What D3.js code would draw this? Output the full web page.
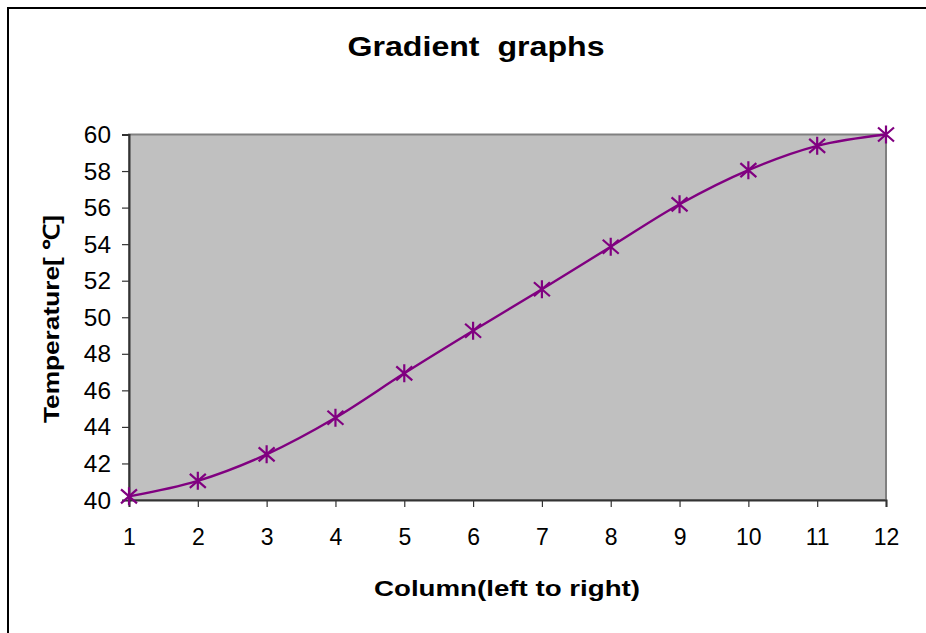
<!DOCTYPE html>
<html><head><meta charset="utf-8">
<script src="https://cdn.jsdelivr.net/npm/d3@7"></script>
<style>body{margin:0;background:#fff}svg{display:block}text{font-family:"Liberation Sans",Arial,sans-serif;fill:#000}</style>
</head><body><svg id="c" width="926" height="633"></svg>
<script>
const columns = [1,2,3,4,5,6,7,8,9,10,11,12];
const temperatures = [40.2,41.05,42.5,44.5,46.93,49.26,51.53,53.86,56.18,58.05,59.38,60.0];
const yTicks = [40,42,44,46,48,50,52,54,56,58,60];
const xTicks = [1,2,3,4,5,6,7,8,9,10,11,12];
const titleText = "Gradient\u00a0\u00a0graphs";
const xLabelText = "Column(left to right)";
const yLabelText = "Temperature[ ℃]";

const svg = d3.select("#c");
svg.append("rect").attr("x",8).attr("y",8).attr("width",1000).attr("height",700)
  .attr("fill","#fff").attr("stroke","#000").attr("stroke-width",2);

const L=129,R=886,T=134.5,B=500;
const x = d3.scaleLinear().domain([1,12]).range([L,R]);
const y = d3.scaleLinear().domain([40,60]).range([B,T]);

svg.append("rect").attr("x",L).attr("y",T).attr("width",R-L).attr("height",B-T)
  .attr("fill","#c0c0c0").attr("stroke","#808080").attr("stroke-width",2);

const ya = svg.append("g").attr("transform",`translate(${L},0)`)
  .call(d3.axisLeft(y).tickValues(yTicks).tickSize(7).tickPadding(10).tickFormat(d3.format("d")));
ya.selectAll("text").attr("font-size",23).style("font-family","Liberation Sans, Arial").attr("dy","0.35em")
  .attr("transform","scale(1.06,1)");
ya.selectAll("line,path").attr("stroke","#333").attr("stroke-width",1.2);
ya.select(".domain").attr("stroke","#333").attr("stroke-width",2);

const xa = svg.append("g").attr("transform",`translate(0,${B})`)
  .call(d3.axisBottom(x).tickValues(xTicks).tickSize(7).tickPadding(22).tickFormat(d3.format("d")));
xa.selectAll("text").attr("font-size",23).style("font-family","Liberation Sans, Arial");
xa.selectAll("line,path").attr("stroke","#333").attr("stroke-width",1.2);
xa.select(".domain").attr("stroke","#333").attr("stroke-width",2);

const pts = columns.map((c,i)=>[c,temperatures[i]]);
const line = d3.line().x(d=>x(d[0])).y(d=>y(d[1])).curve(d3.curveCardinal.tension(0));
svg.append("path").attr("d",line(pts)).attr("fill","none").attr("stroke","#800080").attr("stroke-width",2.4);

const m = svg.append("g").selectAll("g").data(pts).join("g")
  .attr("transform",d=>`translate(${x(d[0])},${y(d[1])})`);
const s=8;
m.append("path").attr("d",`M${-s},${-s+1}L${s},${s-1}M${-s},${s-1}L${s},${-s+1}M0,${-s-1}L0,${s+1}`)
  .attr("stroke","#800080").attr("stroke-width",2.2).attr("fill","none");

svg.append("text").attr("x",476).attr("y",56).attr("text-anchor","middle")
  .attr("font-size",27).attr("font-weight","bold").attr("textLength",257).attr("lengthAdjust","spacingAndGlyphs").text(titleText);
svg.append("text").attr("x",507).attr("y",596).attr("text-anchor","middle")
  .attr("font-size",22).attr("font-weight","bold").attr("textLength",266).attr("lengthAdjust","spacingAndGlyphs").text(xLabelText);
svg.append("text").attr("transform","translate(59,319) rotate(-90)").attr("text-anchor","middle")
  .attr("font-size",22).attr("font-weight","bold").attr("textLength",208).attr("lengthAdjust","spacingAndGlyphs").text(yLabelText);
</script></body></html>
